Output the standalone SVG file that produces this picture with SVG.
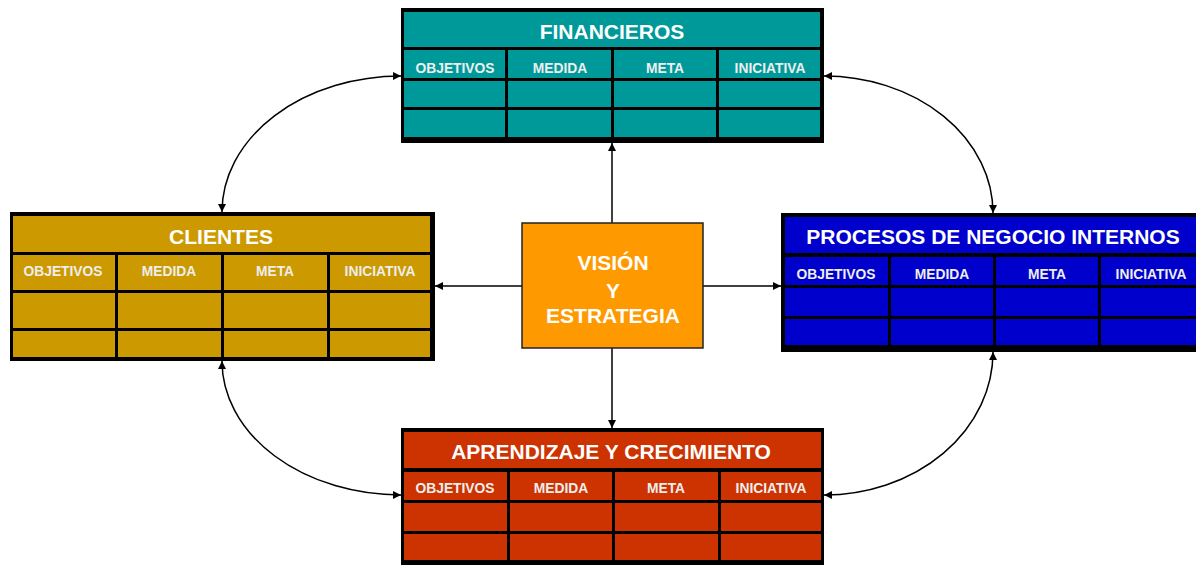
<svg xmlns="http://www.w3.org/2000/svg" width="1196" height="565" viewBox="0 0 1196 565">
<style>
.frame{fill:#000}
.fin{fill:#009999}
.cli{fill:#CC9900}
.pro{fill:#0000CC}
.apr{fill:#CC3300}
.title{font-family:"Liberation Sans",Arial,sans-serif;font-weight:bold;font-size:21px;fill:#fff;text-anchor:middle}
.hdr{font-family:"Liberation Sans",Arial,sans-serif;font-weight:bold;font-size:13.8px;fill:#EEEEEE;text-anchor:middle}
.vis{font-family:"Liberation Sans",Arial,sans-serif;font-weight:bold;font-size:21px;fill:#fff;text-anchor:middle}
.conn{fill:none;stroke:#000;stroke-width:1.5}
</style>
<defs>
<marker id="ah" viewBox="0 0 10 10" refX="10" refY="5" markerWidth="9" markerHeight="8" markerUnits="userSpaceOnUse" orient="auto-start-reverse">
<path d="M0,0 L10,5 L0,10 z" fill="#000"/>
</marker>
</defs>

<g id="connectors">
<line class="conn" x1="612" y1="223" x2="612" y2="143" marker-end="url(#ah)"/>
<line class="conn" x1="522" y1="286" x2="435" y2="286" marker-end="url(#ah)"/>
<line class="conn" x1="703" y1="286" x2="781" y2="286" marker-end="url(#ah)"/>
<line class="conn" x1="612" y1="348" x2="612" y2="428" marker-end="url(#ah)"/>
<path class="conn" d="M401,76 A179,136 0 0 0 222,212" marker-start="url(#ah)" marker-end="url(#ah)"/>
<path class="conn" d="M222,361 A179,134 0 0 0 401,495" marker-start="url(#ah)" marker-end="url(#ah)"/>
<path class="conn" d="M824,76 A169,137 0 0 1 993,213" marker-start="url(#ah)" marker-end="url(#ah)"/>
<path class="conn" d="M993,352 A169,143 0 0 1 824,495" marker-start="url(#ah)" marker-end="url(#ah)"/>
</g>

<g id="financieros">
<rect class="frame" x="401" y="8" width="423" height="135"/>
<rect class="fin" x="404" y="12" width="416" height="35"/>
<rect class="fin" x="404" y="50" width="101" height="28"/>
<rect class="fin" x="508" y="50" width="103" height="28"/>
<rect class="fin" x="614" y="50" width="102" height="28"/>
<rect class="fin" x="719" y="50" width="101" height="28"/>
<rect class="fin" x="404" y="81" width="101" height="26"/>
<rect class="fin" x="508" y="81" width="103" height="26"/>
<rect class="fin" x="614" y="81" width="102" height="26"/>
<rect class="fin" x="719" y="81" width="101" height="26"/>
<rect class="fin" x="404" y="110" width="101" height="27"/>
<rect class="fin" x="508" y="110" width="103" height="27"/>
<rect class="fin" x="614" y="110" width="102" height="27"/>
<rect class="fin" x="719" y="110" width="101" height="27"/>
<text class="title" x="612" y="39">FINANCIEROS</text>
<text class="hdr" x="455" y="73">OBJETIVOS</text>
<text class="hdr" x="560" y="73">MEDIDA</text>
<text class="hdr" x="665" y="73">META</text>
<text class="hdr" x="770" y="73">INICIATIVA</text>
</g>

<g id="clientes">
<rect class="frame" x="10" y="212" width="425" height="149"/>
<rect class="cli" x="13" y="216" width="417" height="36"/>
<rect class="cli" x="13" y="255" width="102" height="35"/>
<rect class="cli" x="118" y="255" width="103" height="35"/>
<rect class="cli" x="224" y="255" width="103" height="35"/>
<rect class="cli" x="330" y="255" width="100" height="35"/>
<rect class="cli" x="13" y="293" width="102" height="35"/>
<rect class="cli" x="118" y="293" width="103" height="35"/>
<rect class="cli" x="224" y="293" width="103" height="35"/>
<rect class="cli" x="330" y="293" width="100" height="35"/>
<rect class="cli" x="13" y="331" width="102" height="26"/>
<rect class="cli" x="118" y="331" width="103" height="26"/>
<rect class="cli" x="224" y="331" width="103" height="26"/>
<rect class="cli" x="330" y="331" width="100" height="26"/>
<text class="title" x="221" y="244">CLIENTES</text>
<text class="hdr" x="63" y="276">OBJETIVOS</text>
<text class="hdr" x="169" y="276">MEDIDA</text>
<text class="hdr" x="275" y="276">META</text>
<text class="hdr" x="380" y="276">INICIATIVA</text>
</g>

<g id="procesos">
<rect class="frame" x="781" y="213" width="430" height="139"/>
<rect class="pro" x="785" y="217" width="425" height="36"/>
<rect class="pro" x="785" y="257" width="103" height="28"/>
<rect class="pro" x="891" y="257" width="102" height="28"/>
<rect class="pro" x="996" y="257" width="102" height="28"/>
<rect class="pro" x="1101" y="257" width="104" height="28"/>
<rect class="pro" x="785" y="288" width="103" height="28"/>
<rect class="pro" x="891" y="288" width="102" height="28"/>
<rect class="pro" x="996" y="288" width="102" height="28"/>
<rect class="pro" x="1101" y="288" width="104" height="28"/>
<rect class="pro" x="785" y="319" width="103" height="26"/>
<rect class="pro" x="891" y="319" width="102" height="26"/>
<rect class="pro" x="996" y="319" width="102" height="26"/>
<rect class="pro" x="1101" y="319" width="104" height="26"/>
<text class="title" x="993" y="244">PROCESOS DE NEGOCIO INTERNOS</text>
<text class="hdr" x="836" y="279">OBJETIVOS</text>
<text class="hdr" x="942" y="279">MEDIDA</text>
<text class="hdr" x="1047" y="279">META</text>
<text class="hdr" x="1151" y="279">INICIATIVA</text>
</g>

<g id="aprendizaje">
<rect class="frame" x="401" y="428" width="423" height="140"/>
<rect class="apr" x="404" y="432" width="417" height="36"/>
<rect class="apr" x="404" y="472" width="103" height="28"/>
<rect class="apr" x="510" y="472" width="102" height="28"/>
<rect class="apr" x="615" y="472" width="103" height="28"/>
<rect class="apr" x="721" y="472" width="100" height="28"/>
<rect class="apr" x="404" y="503" width="103" height="28"/>
<rect class="apr" x="510" y="503" width="102" height="28"/>
<rect class="apr" x="615" y="503" width="103" height="28"/>
<rect class="apr" x="721" y="503" width="100" height="28"/>
<rect class="apr" x="404" y="534" width="103" height="26"/>
<rect class="apr" x="510" y="534" width="102" height="26"/>
<rect class="apr" x="615" y="534" width="103" height="26"/>
<rect class="apr" x="721" y="534" width="100" height="26"/>
<text class="title" x="611" y="459">APRENDIZAJE Y CRECIMIENTO</text>
<text class="hdr" x="455" y="493">OBJETIVOS</text>
<text class="hdr" x="561" y="493">MEDIDA</text>
<text class="hdr" x="666" y="493">META</text>
<text class="hdr" x="771" y="493">INICIATIVA</text>
</g>

<g id="vision">
<rect x="522" y="223" width="181" height="125" fill="#FF9900" stroke="#222" stroke-width="1.5"/>
<text class="vis" x="613" y="270">VISIÓN</text>
<text class="vis" x="613" y="298">Y</text>
<text class="vis" x="613" y="323">ESTRATEGIA</text>
</g>
</svg>
